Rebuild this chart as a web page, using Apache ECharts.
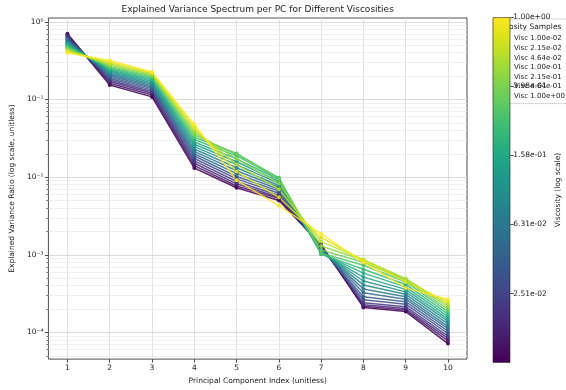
<!DOCTYPE html>
<html>
<head>
<meta charset="utf-8">
<script src="https://cdn.jsdelivr.net/npm/echarts@6/dist/echarts.min.js"></script>
<style>
  html, body { margin: 0; padding: 0; background: #fff; }
  #chart { width: 566px; height: 390px; }
</style>
</head>
<body>
<div id="chart"></div>
<script>
// principal component indices (x)
const pcIndex = [1, 2, 3, 4, 5, 6, 7, 8, 9, 10];

// viscosity samples (log spaced 1e-2 .. 1)
const viscosities = [0.01, 0.0129, 0.0167, 0.0215, 0.0278, 0.0359, 0.0464, 0.0599, 0.0774, 0.1,
  0.129, 0.167, 0.215, 0.278, 0.359, 0.464, 0.599, 0.774, 1.0];

// explained variance ratio per PC, one array per viscosity sample
const s00 = [0.700, 0.154, 0.108, 0.0131, 0.0073, 0.0050, 0.00135, 0.000210, 0.000186, 0.0000720];
const s01 = [0.680, 0.162, 0.114, 0.0141, 0.0077, 0.0053, 0.00132, 0.000218, 0.000194, 0.0000780];
const s02 = [0.660, 0.170, 0.120, 0.0151, 0.0082, 0.0055, 0.00130, 0.000228, 0.000203, 0.0000840];
const s03 = [0.640, 0.178, 0.126, 0.0162, 0.0088, 0.0058, 0.00127, 0.000242, 0.000215, 0.0000900];
const s04 = [0.620, 0.186, 0.132, 0.0174, 0.0095, 0.0062, 0.00124, 0.000264, 0.000231, 0.0000970];
const s05 = [0.600, 0.194, 0.138, 0.0187, 0.0102, 0.0066, 0.00121, 0.000288, 0.000249, 0.000104];
const s06 = [0.585, 0.202, 0.144, 0.0200, 0.0111, 0.0070, 0.00118, 0.000324, 0.000268, 0.000112];
const s07 = [0.565, 0.210, 0.150, 0.0215, 0.0121, 0.0074, 0.00115, 0.000364, 0.000288, 0.000120];
const s08 = [0.550, 0.218, 0.157, 0.0230, 0.0132, 0.0078, 0.00112, 0.000409, 0.000310, 0.000129];
const s09 = [0.530, 0.226, 0.164, 0.0247, 0.0145, 0.0083, 0.00109, 0.000460, 0.000333, 0.000139];
const s10 = [0.515, 0.234, 0.171, 0.0265, 0.0158, 0.0088, 0.00106, 0.000516, 0.000359, 0.000149];
const s11 = [0.500, 0.242, 0.178, 0.0284, 0.0172, 0.0093, 0.00104, 0.000581, 0.000386, 0.000160];
const s12 = [0.485, 0.250, 0.186, 0.0305, 0.0188, 0.0097, 0.00102, 0.000653, 0.000415, 0.000172];
const s13 = [0.470, 0.258, 0.194, 0.0327, 0.0202, 0.0098, 0.00105, 0.000734, 0.000447, 0.000185];
const s14 = [0.455, 0.267, 0.201, 0.0351, 0.0196, 0.0093, 0.00115, 0.000800, 0.000473, 0.000199];
const s15 = [0.440, 0.277, 0.208, 0.0376, 0.0172, 0.0083, 0.00130, 0.000850, 0.000492, 0.000214];
const s16 = [0.425, 0.288, 0.214, 0.0404, 0.0145, 0.0070, 0.00148, 0.000867, 0.000488, 0.000230];
const s17 = [0.410, 0.302, 0.220, 0.0440, 0.0118, 0.0055, 0.00167, 0.000850, 0.000447, 0.000248];
const s18 = [0.400, 0.318, 0.226, 0.0480, 0.0091, 0.0043, 0.00187, 0.000800, 0.000375, 0.000266];
const samples = [s00, s01, s02, s03, s04, s05, s06, s07, s08, s09, s10, s11, s12, s13, s14, s15, s16, s17, s18];

// viridis colour for each sample
const lineColors = ['#440154', '#471466', '#482777', '#453882', '#3e4a89', '#38598c', '#31688e',
  '#2b758e', '#26828e', '#21918c', '#1f9e89', '#25ab82', '#35b779', '#4fc46a', '#6ece58',
  '#90d743', '#b5de2b', '#dae319', '#fde725'];

// viridis stops for the colour bar (bottom -> top)
const viridisStops = ['#440154', '#471365', '#482475', '#463480', '#414487', '#3b528b', '#355f8d',
  '#2f6c8e', '#2a788e', '#25848e', '#21918c', '#1e9c89', '#22a884', '#2fb47c', '#44bf70',
  '#5ec962', '#7ad151', '#9bd93c', '#bddf26', '#dfe318', '#fde725'];

// legend shows every third sample
const legendIdx = [0, 3, 6, 9, 12, 15, 18];

const majorY = [1e-4, 1e-3, 1e-2, 1e-1, 1];
const yMin = 4.54e-5, yMax = 1.12;
const minorY = [];
for (let d = -5; d <= 0; d++) {
  for (let k = 2; k <= 9; k++) {
    const v = k * Math.pow(10, d);
    if (v > yMin && v < yMax) minorY.push(v);
  }
}

const supMap = { '-': '⁻', '0': '⁰', '1': '¹', '2': '²', '3': '³', '4': '⁴', '5': '⁵' };
const powLabel = (v) => {
  const e = Math.round(Math.log10(v));
  if (Math.abs(Math.log10(v) - e) > 1e-6) return '';
  return '10' + String(e).split('').map(c => supMap[c]).join('');
};

const fmtExp = (x) => {
  let e = Math.floor(Math.log10(x) + 1e-9);
  let m = x / Math.pow(10, e);
  if (m.toFixed(2) === '10.00') { e += 1; m = 1; }
  const ae = Math.abs(e);
  return m.toFixed(2) + 'e' + (e < 0 ? '-' : '+') + (ae < 10 ? '0' + ae : ae);
};

const FONT = 'DejaVu Sans';
const TXT = '#222';

const series = samples.map((vals, i) => ({
  name: 'Visc ' + fmtExp(viscosities[i]),
  type: 'line',
  xAxisIndex: 0,
  yAxisIndex: 0,
  data: vals.map((v, j) => [pcIndex[j], v]),
  symbol: 'circle',
  symbolSize: 4,
  color: lineColors[i],
  lineStyle: { width: 1.5, opacity: 0.85 },
  itemStyle: { opacity: 0.9 },
  emphasis: { disabled: true },
  z: 3
}));

// colour bar
series.push({
  type: 'bar',
  xAxisIndex: 1,
  yAxisIndex: 2,
  data: [-2],
  barWidth: '100%',
  silent: true,
  z: 10,
  itemStyle: {
    color: new echarts.graphic.LinearGradient(0, 0, 0, 1,
      viridisStops.slice().reverse().map((c, k, arr) => ({ offset: k / (arr.length - 1), color: c }))),
    borderColor: '#222',
    borderWidth: 0.6
  }
});

const chart = echarts.init(document.getElementById('chart'), null, { renderer: 'canvas' });

const option = {
  animation: false,
  backgroundColor: '#fff',
  textStyle: { fontFamily: FONT },
  title: {
    text: 'Viscosity Samples',
    left: 494,
    top: 23,
    padding: 0,
    z: 5,
    textStyle: { fontFamily: FONT, fontSize: 7.5, fontWeight: 'normal', color: TXT }
  },
  legend: {
    data: legendIdx.map(i => 'Visc ' + fmtExp(viscosities[i])),
    orient: 'vertical',
    left: 493,
    top: 19,
    padding: [16, 4, 4, 2],
    itemWidth: 14,
    itemHeight: 7,
    itemGap: 2.6,
    z: 4,
    backgroundColor: 'rgba(255,255,255,0.8)',
    borderColor: '#cccccc',
    borderWidth: 0.8,
    borderRadius: 2,
    selectedMode: false,
    textStyle: { fontFamily: FONT, fontSize: 7, color: TXT, lineHeight: 7, padding: [0, 0, 0, -1] }
  },
  grid: [
    { left: 44, right: 99, top: 17, bottom: 28, show: true, borderColor: '#222', borderWidth: 0.8 },
    { left: 492.7, width: 17.6, top: 17.3, bottom: 27.3 }
  ],
  xAxis: [
    {
      type: 'value', gridIndex: 0, min: 0.55, max: 10.45,
      name: 'Principal Component Index (unitless)',
      nameLocation: 'middle', nameGap: 15,
      nameTextStyle: { fontFamily: FONT, fontSize: 7.5, color: TXT },
      axisLine: { show: false },
      axisTick: { show: true, length: 3.5, customValues: pcIndex, lineStyle: { color: '#222', width: 0.8 } },
      axisLabel: { customValues: pcIndex, fontFamily: FONT, fontSize: 7.5, color: TXT, margin: 5 },
      splitLine: { show: true, lineStyle: { color: '#d9d9d9', width: 0.8 } }
    },
    {
      type: 'category', gridIndex: 1, data: ['cb'], show: false, boundaryGap: true
    },
    {
      type: 'value', gridIndex: 0, min: 0.55, max: 10.45, position: 'top',
      name: 'Explained Variance Spectrum per PC for Different Viscosities',
      nameLocation: 'middle', nameGap: 4,
      nameTextStyle: { fontFamily: FONT, fontSize: 9, color: TXT },
      axisLine: { show: false }, axisTick: { show: false }, axisLabel: { show: false },
      splitLine: { show: false }
    }
  ],
  yAxis: [
    {
      type: 'log', logBase: 10, gridIndex: 0, min: yMin, max: yMax,
      name: 'Explained Variance Ratio (log scale, unitless)',
      nameLocation: 'middle', nameGap: 22, nameRotate: 90,
      nameTextStyle: { fontFamily: FONT, fontSize: 7.5, color: TXT },
      axisLine: { show: false },
      axisTick: { show: true, length: 3.5, customValues: majorY, lineStyle: { color: '#222', width: 0.8 } },
      axisLabel: { customValues: majorY, formatter: powLabel, fontFamily: FONT, fontSize: 7.5, color: TXT, margin: 5 },
      splitLine: { show: true, lineStyle: { color: '#d0d0d0', width: 0.8 } },
      z: 2
    },
    {
      type: 'log', logBase: 10, gridIndex: 0, min: yMin, max: yMax, position: 'left',
      axisLine: { show: false },
      axisTick: { show: true, length: 2, customValues: minorY, lineStyle: { color: '#222', width: 0.6 } },
      axisLabel: { show: false },
      splitLine: { show: true, lineStyle: { color: '#ebebeb', width: 0.8 } },
      z: 1
    },
    {
      type: 'value', gridIndex: 1, min: -2, max: 0, interval: 0.4, position: 'right',
      name: 'Viscosity (log scale)',
      nameLocation: 'middle', nameGap: 42, nameRotate: 90,
      nameTextStyle: { fontFamily: FONT, fontSize: 7.5, color: TXT },
      axisLine: { show: false },
      axisTick: { show: true, length: 3.5, lineStyle: { color: '#222', width: 0.8 } },
      axisLabel: {
        showMinLabel: false, fontFamily: FONT, fontSize: 7.5, color: TXT, margin: 3,
        formatter: (v) => fmtExp(Math.pow(10, v))
      },
      splitLine: { show: false },
      z: 7
    }
  ],
  series: series
};

chart.setOption(option);
</script>
</body>
</html>
